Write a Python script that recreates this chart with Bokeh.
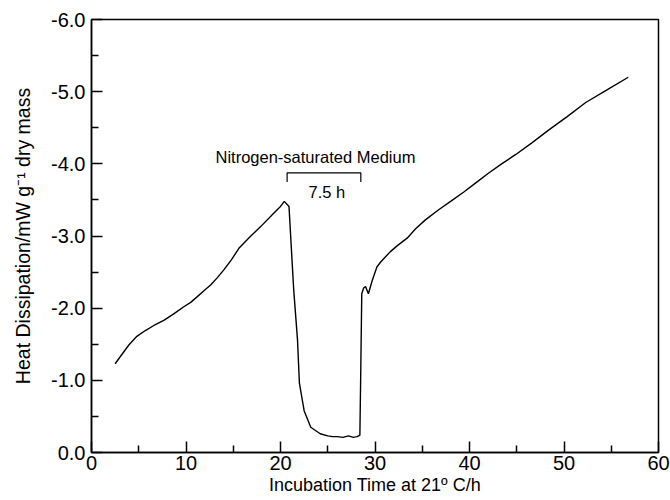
from bokeh.plotting import figure
from bokeh.models import Range1d, NumeralTickFormatter, Label, FixedTicker
from bokeh.embed import file_html
from bokeh.resources import INLINE

# Incubation time (h) and heat dissipation (mW g^-1 dry mass)
time_h = [2.5, 3.0, 3.95, 4.8, 5.7, 6.6, 7.65, 8.7, 9.77, 10.5, 11.2, 11.9, 12.6, 13.3,
          14.0, 14.8, 15.6, 16.7, 17.9, 19.1, 20.0, 20.4, 20.9, 21.1, 21.4, 21.8,
          22.0, 22.5, 23.2, 24.2, 25.0, 25.5, 26.0, 26.6, 27.2, 27.7, 28.1, 28.4,
          28.5, 28.6, 28.8, 29.0, 29.3, 29.7, 30.2, 30.6, 31.6, 32.4, 33.4, 34.3,
          35.3, 36.7, 38.0, 39.4, 40.7, 42.0, 43.4, 44.9, 46.6, 48.4, 50.3, 52.3,
          54.5, 56.8]
heat = [-1.23, -1.32, -1.49, -1.61, -1.69, -1.76, -1.83, -1.92, -2.02, -2.08, -2.16, -2.24, -2.32, -2.42,
        -2.53, -2.67, -2.83, -2.98, -3.13, -3.29, -3.41, -3.48, -3.41, -2.94, -2.25, -1.56,
        -0.96, -0.58, -0.35, -0.26, -0.23, -0.22, -0.22, -0.21, -0.23, -0.21, -0.22, -0.24,
        -1.20, -2.20, -2.28, -2.30, -2.20, -2.38, -2.57, -2.64, -2.78, -2.87, -2.97, -3.10,
        -3.22, -3.36, -3.48, -3.61, -3.74, -3.87, -4.00, -4.13, -4.29, -4.47, -4.65, -4.85,
        -5.02, -5.20]

# Nitrogen-saturated medium period (h)
anoxia_start = 20.7
anoxia_end = 28.5
anoxia_label = "Nitrogen-saturated Medium"
duration_label = "7.5 h"

x_ticks = [0, 10, 20, 30, 40, 50, 60]
y_ticks = [0.0, -1.0, -2.0, -3.0, -4.0, -5.0, -6.0]
x_title = "Incubation Time at 21º C/h"
y_title = "Heat Dissipation/mW g⁻¹ dry mass"

FONT = "Liberation Sans"

p = figure(width=670, height=500, output_backend="svg", toolbar_location=None,
           x_range=Range1d(0, 60), y_range=Range1d(0, -6),
           min_border_left=91, min_border_right=12, min_border_top=19, min_border_bottom=48)

p.grid.visible = False
p.outline_line_color = "black"
p.outline_line_width = 1.5
p.background_fill_color = "white"
p.border_fill_color = "white"

p.xaxis.ticker = FixedTicker(ticks=x_ticks, minor_ticks=[5, 15, 25, 35, 45, 55])
p.yaxis.ticker = FixedTicker(ticks=y_ticks, minor_ticks=[-0.5, -1.5, -2.5, -3.5, -4.5, -5.5])
p.yaxis.formatter = NumeralTickFormatter(format="0.0")

for ax in (p.xaxis, p.yaxis):
    ax.axis_line_color = "black"
    ax.axis_line_width = 1.5
    ax.major_tick_in = 11
    ax.major_tick_out = 0
    ax.minor_tick_in = 7
    ax.minor_tick_out = 0
    ax.major_tick_line_width = 1.5
    ax.minor_tick_line_width = 1.5
    ax.major_label_text_font = FONT
    ax.major_label_text_font_size = "20px"
    ax.major_label_text_color = "black"
    ax.axis_label_text_font = FONT
    ax.axis_label_text_font_style = "normal"
    ax.axis_label_text_color = "black"

p.xaxis.axis_label = x_title
p.xaxis.axis_label_text_font_size = "18px"
p.yaxis.axis_label = y_title
p.yaxis.axis_label_text_font_size = "19.5px"
p.xaxis.major_label_standoff = 3
p.xaxis.axis_label_standoff = 2
p.yaxis.major_label_standoff = 6
p.yaxis.axis_label_standoff = 14

p.line(time_h, heat, line_color="black", line_width=1.4)

# bracket for nitrogen period
br_top = -3.875
br_foot = -3.75
p.line([anoxia_start, anoxia_start, anoxia_end, anoxia_end],
       [br_foot, br_top, br_top, br_foot], line_color="black", line_width=1.2)

p.add_layout(Label(x=(anoxia_start + anoxia_end) / 2 - 0.9, y=-4.1, text=anoxia_label,
                   text_align="center", text_baseline="middle",
                   text_font=FONT, text_font_size="16.5px", text_color="black"))
p.add_layout(Label(x=(anoxia_start + anoxia_end) / 2 + 0.3, y=-3.61, text=duration_label,
                   text_align="center", text_baseline="middle",
                   text_font=FONT, text_font_size="16.5px", text_color="black"))

open("out.html", "w").write(file_html(p, INLINE))
